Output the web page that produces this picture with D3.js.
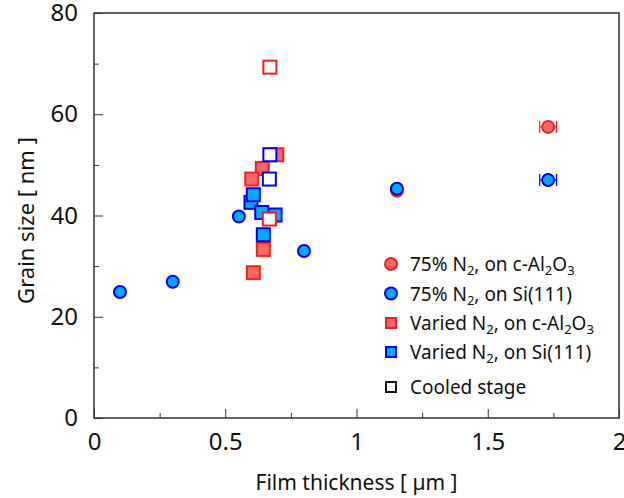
<!DOCTYPE html>
<html lang="en">
<head>
<meta charset="UTF-8">
<title>Grain size vs film thickness</title>
<script src="https://d3js.org/d3.v7.min.js"></script>
<style>
  body { margin: 0; background: #fff; }
  text { font-family: "Noto Sans", "Open Sans", sans-serif; fill: #111; }
</style>
</head>
<body>
<svg width="624" height="498"></svg>
<script>
// data
const circRed  = [[1.154, 44.9, 0.01], [1.73, 57.5, 0.032]];          // 75% N2, c-Al2O3
const circBlue = [[0.099, 24.9, 0], [0.30, 26.9, 0], [0.552, 39.8, 0], [0.80, 33.0, 0],
                  [1.154, 45.3, 0.01], [1.73, 47.0, 0.032]];          // 75% N2, Si(111)
const sqRed    = [[0.696, 52.0], [0.641, 49.3], [0.601, 47.2], [0.645, 33.3], [0.607, 28.7]];
const sqBlue   = [[0.598, 42.6], [0.607, 44.1], [0.639, 40.6], [0.69, 40.1], [0.645, 36.2]];
const openRed  = [[0.67, 69.3], [0.668, 39.3]];
const openBlue = [[0.67, 52.0], [0.668, 47.2]];
const xTicks = [0, 0.5, 1, 1.5, 2];
const yTicks = [0, 20, 40, 60, 80];

const red  = {fill: '#ff6666', stroke: '#ee2222'};
const blue = {fill: '#00aaff', stroke: '#0000ee'};

const mLeft = 94, mRight = 619, mTop = 13, mBottom = 418;
const x = d3.scaleLinear().domain([0, 2]).range([mLeft, mRight]);
const y = d3.scaleLinear().domain([0, 80]).range([mBottom, mTop]);

const svg = d3.select('svg');

// frame
svg.append('rect')
    .attr('x', mLeft).attr('y', mTop)
    .attr('width', mRight - mLeft).attr('height', mBottom - mTop)
    .attr('fill', 'none').attr('stroke', '#333').attr('stroke-width', 1.5);

// ticks (inward)
svg.append('g')
    .attr('transform', `translate(0,${mBottom})`)
    .call(d3.axisBottom(x).tickValues(xTicks).tickSize(-9).tickPadding(15).tickFormat(d3.format('')))
    .call(g => g.select('.domain').remove())
    .call(g => g.selectAll('text').style('font-size', '24px'));
svg.append('g')
    .attr('transform', `translate(0,${mBottom})`)
    .call(d3.axisBottom(x).tickValues([0.25, 0.75, 1.25, 1.75]).tickSize(-5).tickFormat(''))
    .call(g => g.select('.domain').remove());
svg.append('g')
    .attr('transform', `translate(${mLeft},0)`)
    .call(d3.axisLeft(y).tickValues(yTicks).tickSize(-9).tickPadding(16))
    .call(g => g.select('.domain').remove())
    .call(g => g.selectAll('text').style('font-size', '24px'));
svg.append('g')
    .attr('transform', `translate(${mLeft},0)`)
    .call(d3.axisLeft(y).tickValues([10, 30, 50, 70]).tickSize(-5).tickFormat(''))
    .call(g => g.select('.domain').remove());
svg.selectAll('.tick line').attr('stroke', '#333');

// axis titles
svg.append('text')
    .attr('x', (mLeft + mRight) / 2).attr('y', 490)
    .attr('text-anchor', 'middle').style('font-size', '21px')
    .text('Film thickness [ µm ]');
svg.append('text')
    .attr('transform', `translate(34,${(mTop + mBottom) / 2 + 5}) rotate(-90)`)
    .attr('text-anchor', 'middle').style('font-size', '22px')
    .text('Grain size [ nm ]');

const plot = svg.append('g');
const S = 13;

function squares(data, c, open) {
    plot.append('g').selectAll('rect')
        .data(data).join('rect')
        .attr('x', d => x(d[0]) - S / 2)
        .attr('y', d => y(d[1]) - S / 2)
        .attr('width', S).attr('height', S)
        .attr('fill', open ? '#fff' : c.fill)
        .attr('stroke', c.stroke).attr('stroke-width', 2);
}
function circles(data, c) {
    const g = plot.append('g');
    data.filter(d => d[2] > 0).forEach(d => {
        const x0 = x(d[0] - d[2]), x1 = x(d[0] + d[2]), cy = y(d[1]);
        g.append('path')
            .attr('d', `M${x0},${cy}H${x1}M${x0},${cy - 6}V${cy + 6}M${x1},${cy - 6}V${cy + 6}`)
            .attr('stroke', c.stroke).attr('stroke-width', 1.2).attr('fill', 'none');
    });
    g.selectAll('circle')
        .data(data).join('circle')
        .attr('cx', d => x(d[0])).attr('cy', d => y(d[1]))
        .attr('r', 6)
        .attr('fill', c.fill).attr('stroke', c.stroke).attr('stroke-width', 2);
}

squares(sqRed, red, false);
squares(sqBlue, blue, false);
squares(openBlue, blue, true);
squares(openRed, red, true);
circles(circRed, red);
circles(circBlue, blue);

// legend
const legendItems = [
    {shape: 'circle', c: red, label: ['75% N', '2', ', on c-Al', '2', 'O', '3']},
    {shape: 'circle', c: blue, label: ['75% N', '2', ', on Si(111)']},
    {shape: 'square', c: red, label: ['Varied N', '2', ', on c-Al', '2', 'O', '3']},
    {shape: 'square', c: blue, label: ['Varied N', '2', ', on Si(111)']},
    {shape: 'square', c: {fill: '#fff', stroke: '#111'}, label: ['Cooled stage']}
];
const legendY = [264, 293.5, 323, 352, 387];
const lg = svg.append('g');
legendItems.forEach((it, i) => {
    const cy = legendY[i];
    if (it.shape === 'circle') {
        lg.append('circle').attr('cx', 391).attr('cy', cy).attr('r', 6)
            .attr('fill', it.c.fill).attr('stroke', it.c.stroke).attr('stroke-width', 2);
    } else {
        lg.append('rect').attr('x', 386).attr('y', cy - 5).attr('width', 10).attr('height', 10)
            .attr('fill', it.c.fill).attr('stroke', it.c.stroke).attr('stroke-width', 2);
    }
    const t = lg.append('text').attr('x', 410).attr('y', cy + 7).style('font-size', '19px');
    it.label.forEach((s, k) => {
        const sub = k % 2 === 1;
        t.append('tspan')
            .attr('dy', sub ? 4 : (k > 0 ? -4 : 0))
            .style('font-size', sub ? '13px' : '19px')
            .text(s);
    });
});
</script>
</body>
</html>
